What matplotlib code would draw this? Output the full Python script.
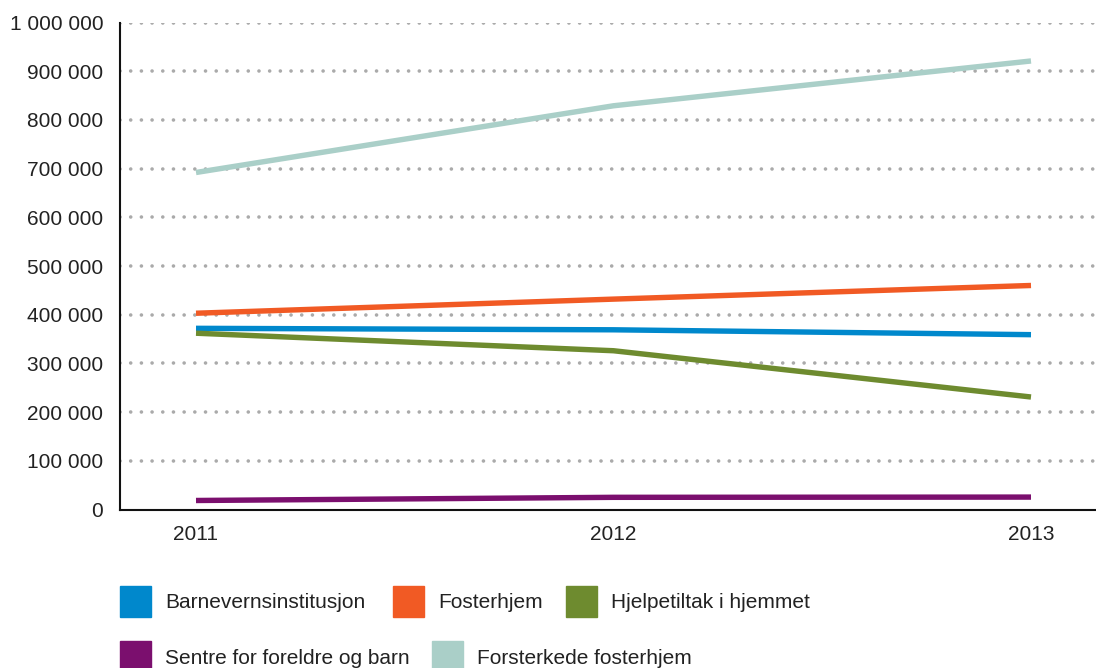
import matplotlib
matplotlib.use("Agg")
import matplotlib.pyplot as plt
from matplotlib.patches import Rectangle
from matplotlib.ticker import FuncFormatter

plt.rcParams['font.family'] = ['Liberation Sans', 'DejaVu Sans']

years = [2011, 2012, 2013]
series_names = ["Barnevernsinstitusjon", "Fosterhjem", "Hjelpetiltak i hjemmet",
                "Sentre for foreldre og barn", "Forsterkede fosterhjem"]
barnevern = [372000, 369000, 359000]
fosterhjem = [403000, 432000, 460000]
hjelpetiltak = [362000, 326000, 231000]
sentre = [18500, 25000, 25500]
forsterkede = [692000, 829000, 921000]
colors = ["#0088CC", "#F15A24", "#6E8B2F", "#7B0F6E", "#AACFC8"]
yticks = [0, 100000, 200000, 300000, 400000, 500000, 600000, 700000, 800000, 900000, 1000000]

fig = plt.figure(figsize=(10.96, 6.68), dpi=100)
ax = fig.add_axes([120/1096, 1 - 509.5/668, 1 - 120/1096, (509.5 - 22.5)/668])

# dotted gridlines
for v in yticks[1:]:
    ax.axhline(v, color="#AAAAAA", lw=2.6, linestyle=(0, (0.01, 2.95)),
               dash_capstyle='round', zorder=1)

all_series = [barnevern, fosterhjem, hjelpetiltak, sentre, forsterkede]
draw_order = [4, 1, 0, 2, 3]
for i in draw_order:
    ax.plot(years, all_series[i], color=colors[i], lw=3.9, solid_capstyle='butt', zorder=3)

ax.set_xlim(2011 - 76/417.5, 2013 + 65/417.5)
ax.set_ylim(0, 1000000)
ax.set_xticks(years)
ax.set_yticks(yticks)
ax.yaxis.set_major_formatter(FuncFormatter(lambda v, p: f"{int(v):,}".replace(",", " ")))
ax.tick_params(axis='both', length=0, labelsize=15, colors="#222222")
ax.tick_params(axis='y', pad=12)
ax.tick_params(axis='x', pad=11)
for s in ['top', 'right']:
    ax.spines[s].set_visible(False)
ax.spines['left'].set_linewidth(1.5)
ax.spines['bottom'].set_linewidth(1.5)
ax.spines['left'].set_color("#111111")
ax.spines['bottom'].set_color("#111111")

# legend (manual layout)
legend_pos = [(120, 586, 165), (393, 586, 438), (566, 586, 611),
              (120, 641, 165), (432, 641, 477)]
for i, (px, py, tx) in enumerate(legend_pos):
    fig.patches.append(Rectangle((px/1096, 1 - (py + 31)/668), 31/1096, 31/668,
                                 transform=fig.transFigure, color=colors[i]))
    fig.text(tx/1096, 1 - (py + 17)/668, series_names[i], fontsize=15,
             va='center', ha='left', color="#222222")

fig.savefig("out.png", dpi=100)
